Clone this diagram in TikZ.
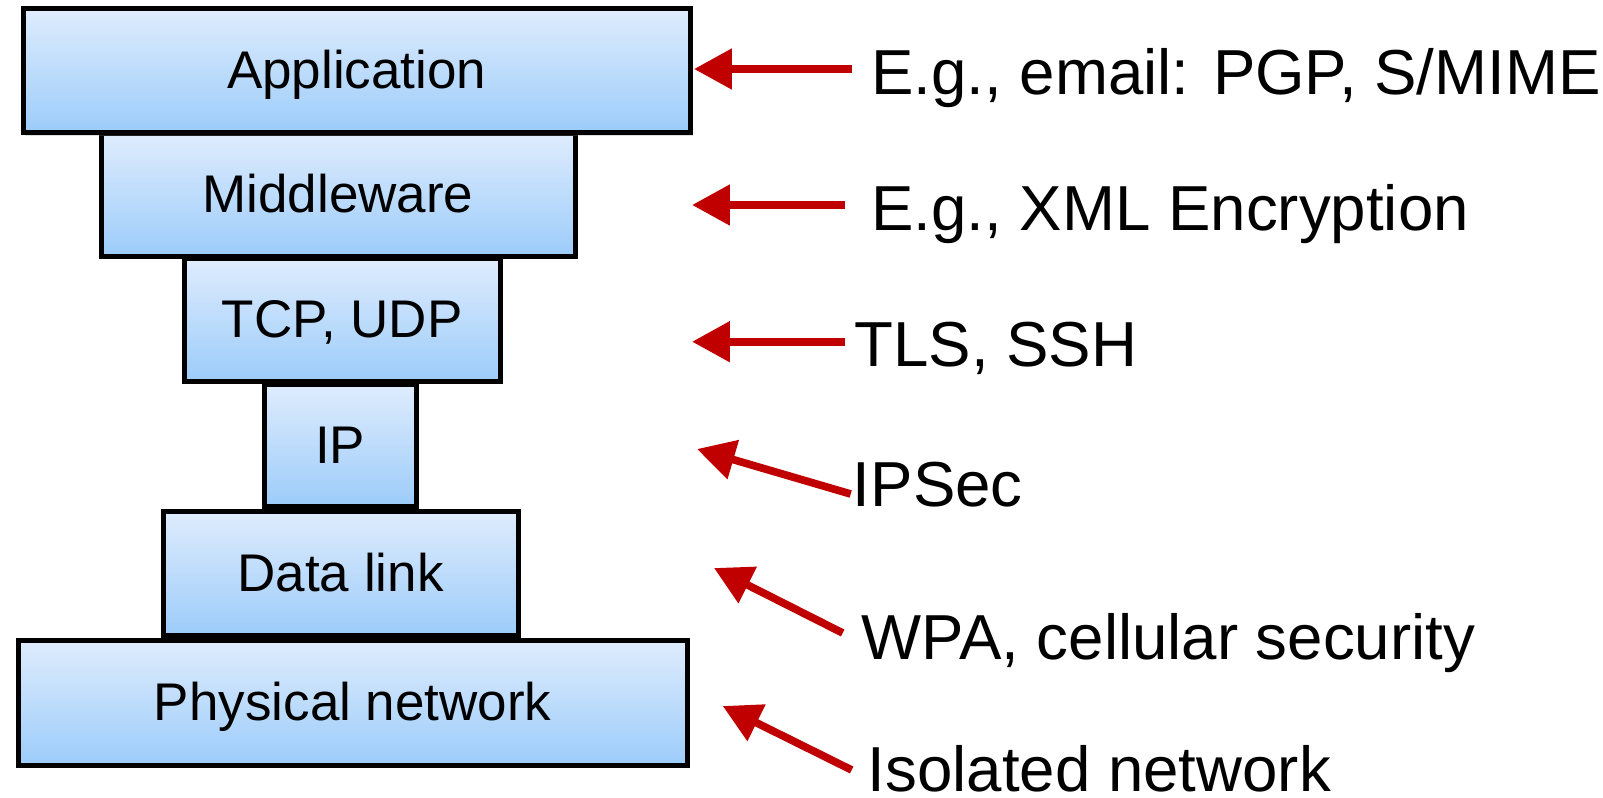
\documentclass[tikz,border=0pt]{standalone}
\usepackage{fontspec}
\setmainfont{Liberation Sans}
\usetikzlibrary{arrows.meta,shadows}
\definecolor{boxtop}{RGB}{223,236,253}
\definecolor{boxbot}{RGB}{156,204,250}
\definecolor{arrred}{RGB}{192,0,0}
\begin{document}
\begin{tikzpicture}[x=0.5pt,y=-0.5pt,
  layer/.style={draw=black, line width=2.5pt, inner sep=0pt, top color=boxtop, bottom color=boxbot,
    drop shadow={shadow xshift=1.2pt, shadow yshift=-1.5pt, opacity=0.25},
    font=\fontsize{26.5}{30}\selectfont, text height=18pt, text depth=0pt},
  lbl/.style={anchor=base west, inner sep=0pt, font=\fontsize{31.8}{36}\selectfont},
  redarrow/.style={draw=arrred, line width=3.85pt, -{Triangle[length=18.9pt,width=19.5pt]}}]
\useasboundingbox (0,0) rectangle (1603,798);
% layers
\node[layer, minimum width=237pt, minimum height=61.5pt] (mid) at (338,194.5) {Middleware};
\node[layer, minimum width=333.75pt, minimum height=62pt] (app) at (356.75,70.5) {Application};
\node[layer, minimum width=157.75pt, minimum height=61.5pt] (tcp) at (342.25,319.5) {TCP, UDP};
\node[layer, minimum width=75.75pt, minimum height=61pt] (ip) at (340.25,445) {IP};
\node[layer, minimum width=177.5pt, minimum height=62pt] (dl) at (340.5,573) {Data link};
\node[layer, minimum width=334.25pt, minimum height=62.5pt] (phys) at (352.75,702.5) {Physical network};
% labels
\node[lbl] (l1) at (871,94) {E.g., email: PGP, S/MIME};
\node[lbl] (l2) at (871,230) {E.g., XML Encryption};
\node[lbl] (l3) at (854,366) {TLS, SSH};
\node[lbl] (l4) at (852.5,506) {IPSec};
\node[lbl] (l5) at (861,659) {WPA, cellular security};
\node[lbl] (l6) at (867.5,791) {Isolated network};
% arrow ends
\coordinate (s1) at (851.7,69);   \coordinate (e1) at (694,69);
\coordinate (s2) at (845,205);    \coordinate (e2) at (692,205);
\coordinate (s3) at (845,341.7);  \coordinate (e3) at (692,341.7);
\coordinate (s4) at (850.7,494);  \coordinate (e4) at (697,449);
\coordinate (s5) at (842.7,633);  \coordinate (e5) at (714,568);
\coordinate (s6) at (851.7,770);  \coordinate (e6) at (722.7,706);
\draw[redarrow] (s1) -- (e1);
\draw[redarrow] (s2) -- (e2);
\draw[redarrow] (s3) -- (e3);
\draw[redarrow] (s4) -- (e4);
\draw[redarrow] (s5) -- (e5);
\draw[redarrow] (s6) -- (e6);
\end{tikzpicture}
\end{document}
